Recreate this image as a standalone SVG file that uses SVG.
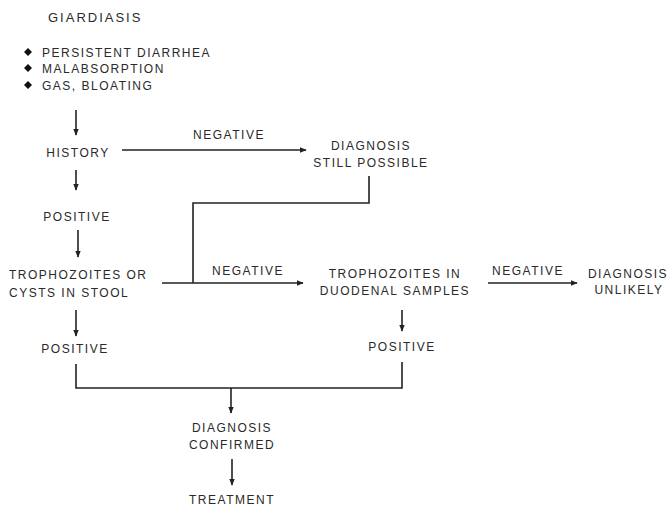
<svg xmlns="http://www.w3.org/2000/svg" width="670" height="508" viewBox="0 0 670 508">
<defs>
<marker id="ah" viewBox="0 0 10 10" refX="9" refY="5" markerWidth="7" markerHeight="7" markerUnits="userSpaceOnUse" orient="auto">
<path d="M0,1 L10,5 L0,9 Z" fill="#222"/>
</marker>
<style>
text{font-family:"Liberation Sans",Arial,sans-serif;font-size:12px;letter-spacing:1.5px;fill:#2a2a2a}
.t{font-size:13px;letter-spacing:2px}
.c{text-anchor:middle}
.ln{stroke:#222;stroke-width:1.6;fill:none}
.ar{stroke:#222;stroke-width:1.6;fill:none;marker-end:url(#ah)}
</style>
</defs>
<rect width="670" height="508" fill="#fff"/>
<g id="title"><text class="t" x="48" y="22">GIARDIASIS</text></g>
<g id="symptoms">
<path d="M28,48 L32,52 L28,56 L24,52 Z M28,64 L32,68 L28,72 L24,68 Z M28,81 L32,85 L28,89 L24,85 Z" fill="#111"/>
<text x="42" y="57">PERSISTENT DIARRHEA</text>
<text x="42" y="73">MALABSORPTION</text>
<text x="42" y="90">GAS, BLOATING</text>
</g>
<g id="history"><text class="c" x="78" y="157">HISTORY</text></g>
<g id="pos1"><text class="c" x="77" y="221">POSITIVE</text></g>
<g id="still"><text class="c" x="371" y="150">DIAGNOSIS</text><text class="c" x="371" y="167">STILL POSSIBLE</text></g>
<g id="stool"><text x="9" y="279">TROPHOZOITES OR</text><text x="9" y="297">CYSTS IN STOOL</text></g>
<g id="duod"><text class="c" x="395" y="278">TROPHOZOITES IN</text><text class="c" x="395" y="295">DUODENAL SAMPLES</text></g>
<g id="unlikely"><text class="c" x="628" y="278">DIAGNOSIS</text><text class="c" x="629" y="294">UNLIKELY</text></g>
<g id="pos2"><text class="c" x="75" y="353">POSITIVE</text></g>
<g id="pos3"><text class="c" x="402" y="351">POSITIVE</text></g>
<g id="confirmed"><text class="c" x="232" y="432">DIAGNOSIS</text><text class="c" x="232" y="449">CONFIRMED</text></g>
<g id="treatment"><text class="c" x="232" y="504">TREATMENT</text></g>
<g id="connectors">
<path class="ar" d="M76,110 V135"/>
<path class="ar" d="M122,150 H306"/>
<text class="c" x="229" y="139">NEGATIVE</text>
<path class="ar" d="M76,170 V190"/>
<path class="ar" d="M78,230 V257"/>
<path class="ln" d="M369,176 V203 H193 V283"/>
<path class="ar" d="M162,283 H303"/>
<text class="c" x="248" y="275">NEGATIVE</text>
<path class="ar" d="M488,283 H577"/>
<text class="c" x="528" y="275">NEGATIVE</text>
<path class="ar" d="M76,310 V336"/>
<path class="ar" d="M402,310 V331"/>
<path class="ln" d="M76,364 V388 H402 V362"/>
<path class="ar" d="M231,388 V413"/>
<path class="ar" d="M232,459 V485"/>
</g>
</svg>
